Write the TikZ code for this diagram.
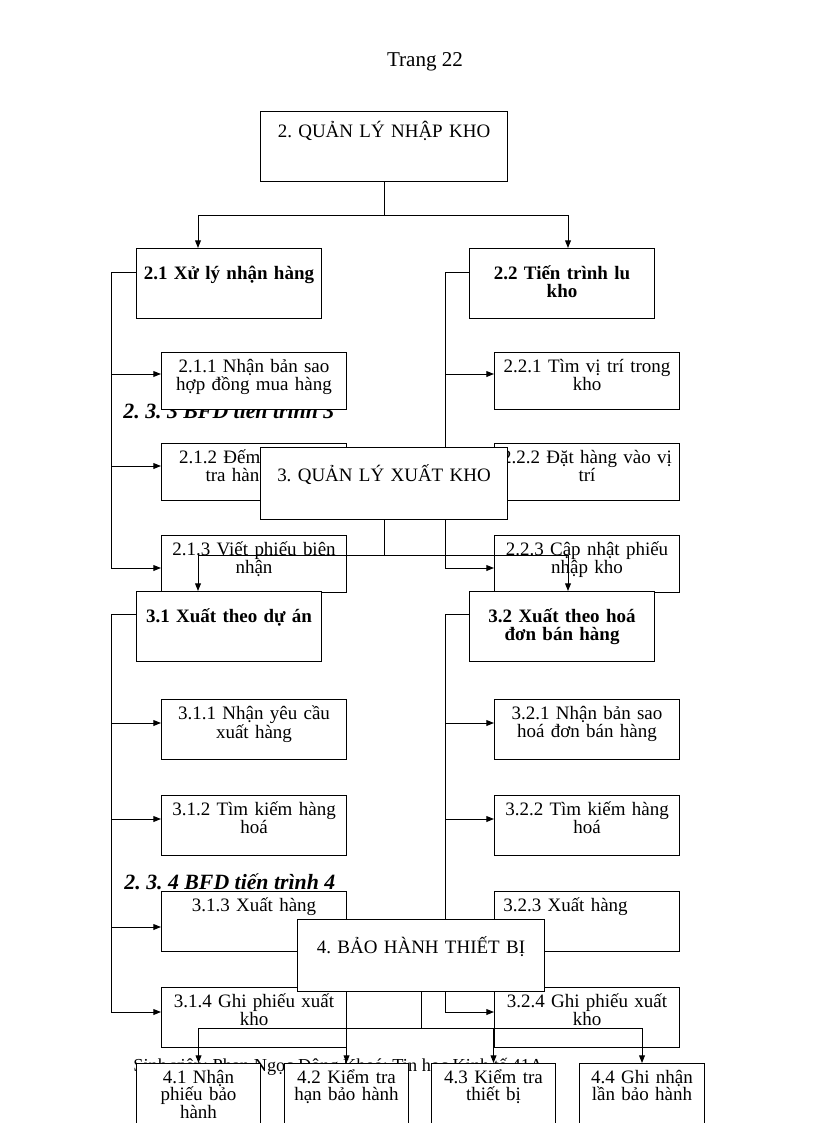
\documentclass[tikz,border=0pt]{standalone}
\usepackage{fontspec}
\setmainfont{Liberation Serif}
\usetikzlibrary{arrows.meta,calc}
\frenchspacing

\tikzset{
  box/.style={draw, fill=white, inner sep=0pt, anchor=north west, align=center},
  head/.style={box, text width=6.175cm, text height=0.85cm, text depth=0.95cm, font=\fontsize{13.5}{13}\selectfont},
  proc/.style={box, text width=4.625cm, text height=0.78cm, text depth=0.97cm, font=\bfseries\fontsize{13.5}{12.5}\selectfont},
  sub/.style={box, text width=4.625cm, text height=0.5cm, text depth=#1, font=\fontsize{13.5}{12.5}\selectfont},
  sub/.default=0.925cm,
  leaf/.style={box, text width=3.1cm, text height=0.5cm, text depth=1.5cm, font=\fontsize{13.5}{12.4}\selectfont},
  heading/.style={anchor=base west, inner sep=0pt, font=\bfseries\itshape\fontsize{15.5}{18}\selectfont},
}

\begin{document}
\begin{tikzpicture}[x=0.025cm, y=-0.025cm, line width=0.7pt, >={Triangle[length=5.5pt, width=4.2pt]}]
\useasboundingbox (0,0) rectangle (816,1123);

% Textos soltos
\node[font=\fontsize{15}{18}\selectfont] (pg) at (425,62) {Trang 22};
\node[heading] (t233) at (123,418) {2. 3. 3 BFD tiến trình 3};
\node[heading] (t234) at (124,889) {2. 3. 4 BFD tiến trình 4};
\node[anchor=base west, inner sep=0pt, font=\fontsize{13}{15}\selectfont] (rodape) at (133,1071) {Sinh viên: Phan Ngọc Đông Khoá: Tin học Kinh tế 41A};

% 2. Quản lý nhập kho
\node[head, text height=0.64cm, text depth=1.11cm] (nA) at (260,111) {2. QUẢN LÝ NHẬP KHO};
\node[proc] (n21) at (136,248) {2.1 Xử lý nhận hàng};
\node[proc] (n22) at (469,248) {2.2 Tiến trình lu\\kho};
\coordinate (jA) at ($(nA.south)+(0,33)$);
\draw (nA.south) -- (jA);
\draw[->] (jA) -| ($(n21.north west)+(62,0)$);
\draw[->] (jA) -| ($(n22.north west)+(99,0)$);

\node[sub] (n211) at (161,352) {2.1.1 Nhận bản sao\\hợp đồng mua hàng};
\node[sub] (n212) at (161,443) {2.1.2 Đếm và kiểm\\tra hàng hoá};
\node[sub] (n213) at (161,535) {2.1.3 Viết phiếu biên\\nhận};
\node[sub] (n221) at (494,352) {2.2.1 Tìm vị trí trong\\kho};
\node[sub] (n222) at (494,443) {2.2.2 Đặt hàng vào vị\\trí};
\node[sub] (n223) at (494,535) {2.2.3 Cập nhật phiếu\\nhập kho};

\coordinate (s21) at ($(n21.north west)+(-25,24)$);
\draw ($(n21.north west)+(0,24)$) -- (s21);
\draw[->] (s21) |- ($(n211.north west)+(0,22)$);
\draw[->] (s21) |- ($(n212.north west)+(0,23)$);
\draw[->] (s21) |- ($(n213.north west)+(0,33)$);
\coordinate (s22) at ($(n22.north west)+(-24,24)$);
\draw ($(n22.north west)+(0,24)$) -- (s22);
\draw[->] (s22) |- ($(n221.north west)+(0,22)$);
\draw[->] (s22) |- ($(n222.north west)+(0,23)$);
\draw[->] (s22) |- ($(n223.north west)+(0,33)$);

% 3. Quản lý xuất kho
\node[head] (nB) at (260,447) {3. QUẢN LÝ XUẤT KHO};
\node[proc] (n31) at (136,591) {3.1 Xuất theo dự án};
\node[proc] (n32) at (469,591) {3.2 Xuất theo hoá\\đơn bán hàng};
\coordinate (jB) at ($(nB.south)+(0,35)$);
\draw (nB.south) -- (jB);
\draw[->] (jB) -| ($(n31.north west)+(62,0)$);
\draw[->] (jB) -| ($(n32.north west)+(99,0)$);

\node[sub=1cm] (n311) at (161,699) {3.1.1 Nhận yêu cầu\\xuất hàng};
\node[sub=1cm] (n312) at (161,795) {3.1.2 Tìm kiếm hàng\\hoá};
\node[sub=1cm] (n313) at (161,891) {3.1.3 Xuất hàng};
\node[sub=1cm] (n314) at (161,987) {3.1.4 Ghi phiếu xuất\\kho};
\node[sub=1cm] (n321) at (494,699) {3.2.1 Nhận bản sao\\hoá đơn bán hàng};
\node[sub=1cm] (n322) at (494,795) {3.2.2 Tìm kiếm hàng\\hoá};
\node[sub=1cm, align=left] (n323) at (494,891) {\hspace*{0.22cm}3.2.3 Xuất hàng};
\node[sub=1cm] (n324) at (494,987) {3.2.4 Ghi phiếu xuất\\kho};

\coordinate (s31) at ($(n31.north west)+(-25,23)$);
\draw ($(n31.north west)+(0,23)$) -- (s31);
\draw[->] (s31) |- ($(n311.north west)+(0,24)$);
\draw[->] (s31) |- ($(n312.north west)+(0,24)$);
\draw[->] (s31) |- ($(n313.north west)+(0,36)$);
\draw[->] (s31) |- ($(n314.north west)+(0,25)$);
\coordinate (s32) at ($(n32.north west)+(-24,23)$);
\draw ($(n32.north west)+(0,23)$) -- (s32);
\draw[->] (s32) |- ($(n321.north west)+(0,24)$);
\draw[->] (s32) |- ($(n322.north west)+(0,24)$);
\draw[->] (s32) |- ($(n323.north west)+(0,36)$);
\draw[->] (s32) |- ($(n324.north west)+(0,25)$);

% 4. Bảo hành thiết bị
\node[head] (nC) at (297,919) {4. BẢO HÀNH THIẾT BỊ};
\node[leaf] (n41) at (136,1063) {4.1 Nhận\\phiếu bảo\\hành};
\node[leaf] (n42) at (284,1063) {4.2 Kiểm tra\\hạn bảo hành};
\node[leaf] (n43) at (431,1063) {4.3 Kiểm tra\\thiết bị};
\node[leaf, text width=3.125cm] (n44) at (579,1063) {4.4 Ghi nhận\\lần bảo hành};
\coordinate (jC) at ($(nC.south)+(0,36)$);
\draw (nC.south) -- (jC);
\foreach \n in {n41,n42,n43,n44}
  \draw[->] (jC) -| (\n.north);
\end{tikzpicture}
\end{document}
